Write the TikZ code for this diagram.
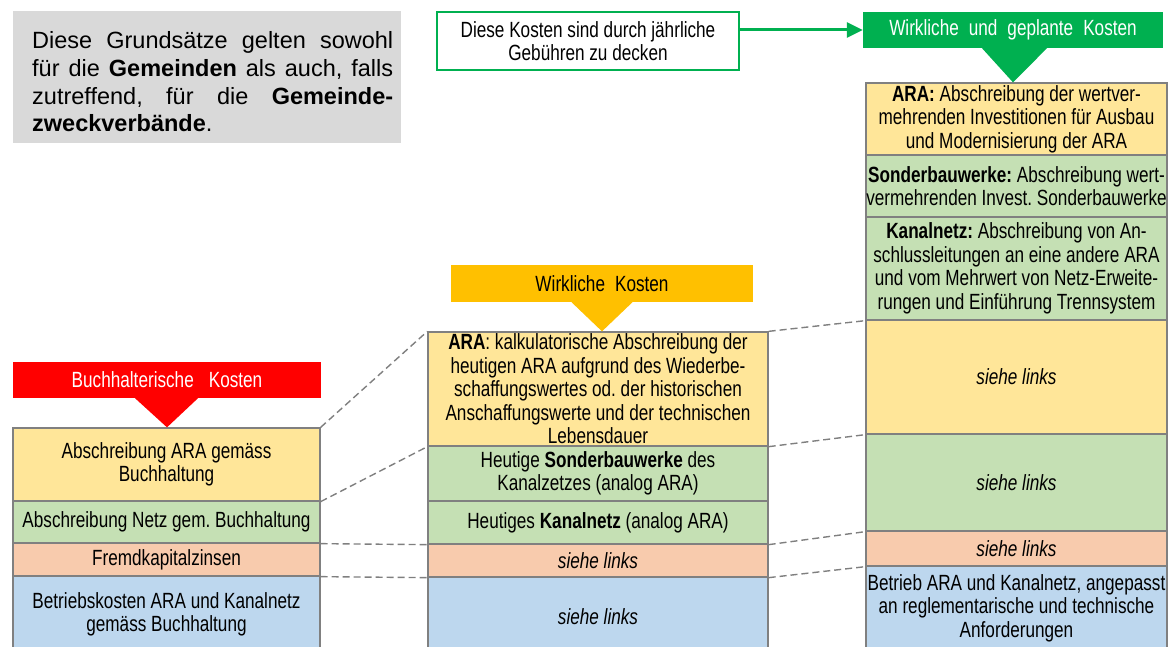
\documentclass[tikz,border=0pt]{standalone}
\usepackage{fontspec}
\setmainfont{Liberation Sans}
\newfontfamily\narrowfont[FakeStretch=0.78]{Liberation Sans}
\usetikzlibrary{arrows.meta}
\definecolor{cyel}{HTML}{FFE699}
\definecolor{cgrn}{HTML}{C5E0B4}
\definecolor{corg}{HTML}{F8CBAD}
\definecolor{cblu}{HTML}{BDD7EE}
\definecolor{cborder}{HTML}{808080}
\definecolor{cdash}{HTML}{7F7F7F}
\definecolor{cred}{HTML}{FF0000}
\definecolor{camber}{HTML}{FFC000}
\definecolor{cgreen}{HTML}{00B050}
\definecolor{cgray}{HTML}{D9D9D9}
\frenchspacing
\begin{document}
\begin{tikzpicture}[x=1pt,y=-1pt,
  cell/.style 2 args={draw=cborder, line width=1.3pt, inner ysep=0pt, inner xsep=-15pt,
    minimum width=#1pt, text width=#1pt+30pt, minimum height=#2pt, align=flush center,
    font={\narrowfont\fontsize{22pt}{23.5pt}\selectfont}},
  banner/.style={inner sep=0pt, align=center,
    font={\narrowfont\fontsize{22pt}{23.5pt}\selectfont}},
  link/.style={draw=cdash, line width=1.4pt, dash pattern=on 7pt off 4pt},
  flow/.style={draw=cgreen, line width=3pt, -{Triangle[length=16pt,width=15pt]}}]
\useasboundingbox (0,0) rectangle (1176,647);

% note box
\node[fill=cgray, minimum width=388pt, minimum height=132pt, inner sep=0pt] (note) at (207,77) {};
\node[anchor=north west, inner sep=0pt, text width=361pt, align=justify,
  font={\fontsize{23.5pt}{27.7pt}\selectfont}] (notetxt) at (32,31.5)
  {Diese Grundsätze gelten sowohl\linebreak für die \textbf{Gemeinden} als auch, falls\linebreak zutreffend, für die \textbf{Gemeinde-}\linebreak \textbf{zweckverbände}.};

% cover box and arrow
\node[draw=cgreen, line width=1.5pt, minimum width=302pt, minimum height=58pt, inner sep=0pt,
  align=center, font={\narrowfont\fontsize{22pt}{23.5pt}\selectfont}] (cover) at (588,41)
  {Diese Kosten sind durch jährliche\\Gebühren zu decken};

% banners
\node[banner, fill=cred, text=white, minimum width=308pt, minimum height=36pt] (bk) at (167,380)
  {Buchhalterische\hspace{15pt}Kosten};
\node[banner, fill=camber, minimum width=302pt, minimum height=37pt] (wk) at (602,283.5)
  {Wirkliche\hspace{10pt}Kosten};
\node[banner, fill=cgreen, text=white, minimum width=300pt, minimum height=36pt] (wgk) at (1013,30)
  {Wirkliche\hspace{10pt}und\hspace{10pt}geplante\hspace{10pt}Kosten};

% left column
\node[cell={307}{73}, fill=cyel] (L1) at (166.5,464.5) {Abschreibung ARA gemäss\\Buchhaltung};
\node[cell={307}{42}, fill=cgrn] (L2) at (166.5,522) {Abschreibung Netz gem. Buchhaltung};
\node[cell={307}{33}, fill=corg] (L3) at (166.5,559.5) {Fremdkapitalzinsen};
\node[cell={307}{77}, fill=cblu] (L4) at (166.5,614.5) {Betriebskosten ARA und Kanalnetz\\gemäss Buchhaltung};

% middle column
\node[cell={340}{114}, fill=cyel] (M1) at (598,389) {\textbf{ARA}: kalkulatorische Abschreibung der\\heutigen ARA aufgrund des Wiederbe-\\schaffungswertes od. der historischen\\Anschaffungswerte und der technischen\\Lebensdauer};
\node[cell={340}{55}, fill=cgrn] (M2) at (598,473.5) {Heutige \textbf{Sonderbauwerke} des\\Kanalzetzes (analog ARA)};
\node[cell={340}{43}, fill=cgrn] (M3) at (598,522.5) {Heutiges \textbf{Kanalnetz} (analog ARA)};
\node[cell={340}{33}, fill=corg] (M4) at (598,560.5) {\textit{siehe links}};
\node[cell={340}{80}, fill=cblu] (M5) at (598,617) {\textit{siehe links}};

% right column
\node[cell={301}{72}, fill=cyel] (R1) at (1016.5,119) {\textbf{ARA:} Abschreibung der wertver-\\mehrenden Investitionen für Ausbau\\und Modernisierung der ARA};
\node[cell={301}{62}, fill=cgrn] (R2) at (1016.5,186) {\textbf{Sonderbauwerke:} Abschreibung wert-\\vermehrenden Invest. Sonderbauwerke};
\node[cell={301}{103}, fill=cgrn] (R3) at (1016.5,268.5) {\textbf{Kanalnetz:} Abschreibung von An-\\schlussleitungen an eine andere ARA\\und vom Mehrwert von Netz-Erweite-\\rungen und Einführung Trennsystem};
\node[cell={301}{114}, fill=cyel] (R4) at (1016.5,377) {\textit{siehe links}};
\node[cell={301}{97}, fill=cgrn] (R5) at (1016.5,482.5) {\textit{siehe links}};
\node[cell={301}{35}, fill=corg] (R6) at (1016.5,548.5) {\textit{siehe links}};
\node[cell={301}{84}, fill=cblu] (R7) at (1016.5,608) {Betrieb ARA und Kanalnetz, angepasst\\an reglementarische und technische\\Anforderungen};

% banner pointers
\fill[cred] ([xshift=-32pt]bk.south) -- ([xshift=31pt]bk.south) -- (bk.south |- L1.north) -- cycle;
\fill[camber] ([xshift=-30.5pt]wk.south) -- ([xshift=30.5pt]wk.south) -- (wk.south |- M1.north) -- cycle;
\fill[cgreen] ([xshift=-31pt]wgk.south) -- ([xshift=34pt]wgk.south) -- (wgk.south |- R1.north) -- cycle;

% arrow
\draw[flow] (cover.east |- wgk.west) -- (wgk.west);

% dashed links
\draw[link] (L1.north east) -- (M1.north west);
\draw[link] (L1.south east) -- (M1.south west);
\draw[link] (L2.south east) -- (M3.south west);
\draw[link] (L3.south east) -- (M4.south west);
\draw[link] (M1.north east) -- (R3.south west);
\draw[link] (M1.south east) -- (R4.south west);
\draw[link] (M3.south east) -- (R5.south west);
\draw[link] (M4.south east) -- (R6.south west);
\end{tikzpicture}
\end{document}
